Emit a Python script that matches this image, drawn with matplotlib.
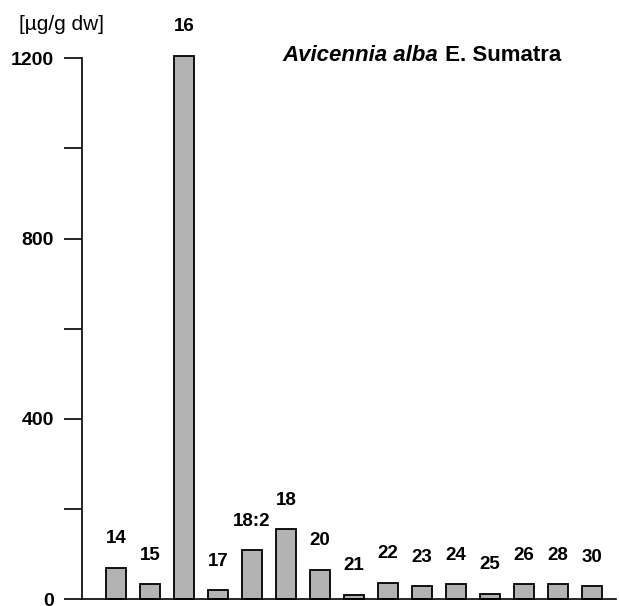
import matplotlib
matplotlib.use('Agg')
import matplotlib.pyplot as plt
import numpy as np

plt.rcParams['font.family'] = ['Liberation Sans', 'DejaVu Sans']

# chain length of the compounds and their amount in ug/g dry weight
labels = ['14', '15', '16', '17', '18:2', '18', '20', '21', '22', '23', '24', '25', '26', '28', '30']
values = [70, 33, 1205, 20, 109, 155, 66, 10, 36, 29, 33, 12, 33, 33, 29]

fig = plt.figure(figsize=(6.19, 6.06), dpi=100)
ax = fig.add_axes([0.1325, 0.011, 0.8625, 0.893])

x = np.arange(len(labels))
bars = ax.bar(x, values, width=0.6, color='#b3b3b3', edgecolor='black', linewidth=1.3, clip_on=False)

for i, (lbl, v) in enumerate(zip(labels, values)):
    ax.annotate(lbl, (i, v), xytext=(0, 21), textcoords='offset points',
                ha='center', va='center', fontsize=13.5, fontweight='bold',
                annotation_clip=False)

ax.set_xlim(-1.0, 14.7)
ax.set_ylim(0, 1200)
ax.set_yticks([0, 400, 800, 1200])
ax.set_yticks([200, 600, 1000], minor=True)
ax.set_xticks([])
for lab in ax.get_yticklabels():
    lab.set_fontweight('bold')
ax.tick_params(axis='y', which='both', length=13, width=1.2, pad=7, labelsize=14, direction='out')

ax.spines['top'].set_visible(False)
ax.spines['right'].set_visible(False)
ax.spines['left'].set_linewidth(1.2)
ax.spines['bottom'].set_linewidth(1.2)

fig.text(0.1, 0.959, '[µg/g dw]', ha='center', va='center', fontsize=15)

t1 = fig.text(0.457, 0.9076, 'Avicennia alba', ha='left', va='center',
              fontsize=16, fontweight='bold', fontstyle='italic')
ax.annotate(' E. Sumatra', xy=(1, 0), xycoords=t1, ha='left', va='bottom',
            fontsize=16, fontweight='bold')

fig.savefig('out.png', dpi=100)
